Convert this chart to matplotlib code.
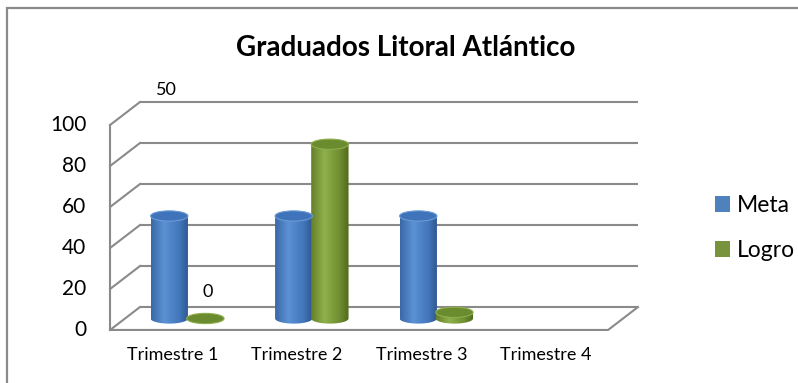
import numpy as np
import matplotlib
matplotlib.use("Agg")
import matplotlib.pyplot as plt
from matplotlib.patches import Ellipse, PathPatch, Patch, Rectangle
from matplotlib.path import Path
from matplotlib.colors import LinearSegmentedColormap

# ---- data ----
categories = ["Trimestre 1", "Trimestre 2", "Trimestre 3", "Trimestre 4"]
meta = [50, 50, 50, None]
logro = [0, 85, 3, None]
series_names = ["Meta", "Logro"]
y_ticks = [0, 20, 40, 60, 80, 100]
title = "Graduados Litoral Atlántico"

# ---- style ----
FONT = ["Lato", "DejaVu Sans"]
plt.rcParams["font.family"] = FONT
GRID = "#8a8a8a"
W, H, DPI = 798, 383, 100

# oblique depth of the 3D box, in data units
DEPTH_X = -0.24
DEPTH_Y = -11.2

fig = plt.figure(figsize=(W / DPI, H / DPI), dpi=DPI)
ax = fig.add_axes([0, 0, 1, 1])
ax.set_axis_off()
# back-wall scale: 124.5 px per category, 2.05 px per unit
px_x, px_y = 124.5, 2.05
xlim = (-140 / px_x, (W - 140) / px_x)
ylim = (-(H - 307) / px_y, 307 / px_y)

# outer chart border
fig.patches.append(Rectangle((7 / W, -0.5), 2, 1.5 - 8 / H, transform=fig.transFigure,
                             fill=False, ec="#8a8a8a", lw=1.6, zorder=0))

ncat = len(categories)
# back-wall gridlines and left side wall
for v in y_ticks:
    ax.plot([0, ncat], [v, v], color=GRID, lw=1.5, zorder=1, solid_capstyle="butt")
    ax.plot([DEPTH_X, 0], [v + DEPTH_Y, v], color=GRID, lw=1.5, zorder=1)
    ax.annotate(str(v), xy=(DEPTH_X, v + DEPTH_Y), xytext=(-17, 0), textcoords="offset points",
                ha="right", va="center", fontsize=15, color="black")
# front vertical axis, floor front edge and right floor edge
ax.plot([DEPTH_X, DEPTH_X], [DEPTH_Y, y_ticks[-1] + DEPTH_Y], color=GRID, lw=1.5, zorder=1)
ax.plot([DEPTH_X, ncat + DEPTH_X, ncat], [DEPTH_Y, DEPTH_Y, 0], color=GRID, lw=1.5, zorder=1)

for i, c in enumerate(categories):
    ax.annotate(c, xy=(i + 0.5 + DEPTH_X, DEPTH_Y), xytext=(0, -18), textcoords="offset points",
                ha="center", va="center", fontsize=13, color="black")

cmaps = {
    "Meta": LinearSegmentedColormap.from_list(
        "meta", [(0, "#3a68a6"), (0.35, "#5b92d4"), (0.75, "#4277bb"), (1, "#2d558c")]),
    "Logro": LinearSegmentedColormap.from_list(
        "logro", [(0, "#657f2a"), (0.35, "#8fb04b"), (0.75, "#6f8f31"), (1, "#51691c")]),
}
tops = {"Meta": ("#3f74bb", "#6a9bd6"), "Logro": ("#6a8b2e", "#8fae4c")}
legend_colors = {"Meta": "#4f81bd", "Logro": "#77933c"}

half_w = 0.15
ell = 2.5
offsets = {"Meta": -0.145, "Logro": 0.145}
grad = np.linspace(0, 1, 256).reshape(1, -1)
theta = np.linspace(np.pi, 2 * np.pi, 60)

bar_top = {}
for name, vals in (("Meta", meta), ("Logro", logro)):
    for i, v in enumerate(vals):
        if v is None:
            continue
        cx = i + 0.5 + offsets[name] + DEPTH_X / 2
        yb = DEPTH_Y / 2
        yt = yb + v
        bar_top[(name, i)] = (cx, yt)
        # body outline: sides plus lower half of the base ellipse
        xs = np.concatenate([[cx - half_w], cx + half_w * np.cos(theta), [cx + half_w]])
        ys = np.concatenate([[yt], yb + ell * np.sin(theta), [yt]])
        verts = np.column_stack([xs, ys])
        path = Path(np.vstack([verts, verts[:1]]),
                    [Path.MOVETO] + [Path.LINETO] * (len(verts) - 1) + [Path.CLOSEPOLY])
        clip = PathPatch(path, transform=ax.transData, fc="none", ec="none")
        ax.add_patch(clip)
        im = ax.imshow(grad, cmap=cmaps[name], aspect="auto", zorder=3,
                       extent=(cx - half_w, cx + half_w, yb - ell, yt), interpolation="bilinear")
        im.set_clip_path(clip)
        fc, ec = tops[name]
        ax.add_patch(Ellipse((cx, yt), 2 * half_w, 2 * ell, fc=fc, ec=ec, lw=0.8, zorder=4))

ax.set_xlim(*xlim)
ax.set_ylim(*ylim)

# data labels
cx, _ = bar_top[("Meta", 0)]
ax.annotate("50", xy=(cx, y_ticks[-1]), xytext=(-2, 9), textcoords="offset points",
            ha="center", va="center", fontsize=13)
cx, yt = bar_top[("Logro", 0)]
ax.annotate("0", xy=(cx, yt), xytext=(2, 19), textcoords="offset points",
            ha="center", va="center", fontsize=13)

ax.text(0.508, 1 - 48 / H, title, transform=fig.transFigure, ha="center", va="center",
        fontsize=20, fontweight="bold")

handles = [Patch(fc=legend_colors[n], ec="none") for n in series_names]
fig.legend(handles, series_names, loc="center left", bbox_to_anchor=(704 / W, 1 - 228 / H),
           frameon=False, fontsize=16.5, handlelength=0.65, handleheight=0.65,
           handletextpad=0.3, labelspacing=1.05, borderpad=0)

fig.savefig("out.png", dpi=DPI)
